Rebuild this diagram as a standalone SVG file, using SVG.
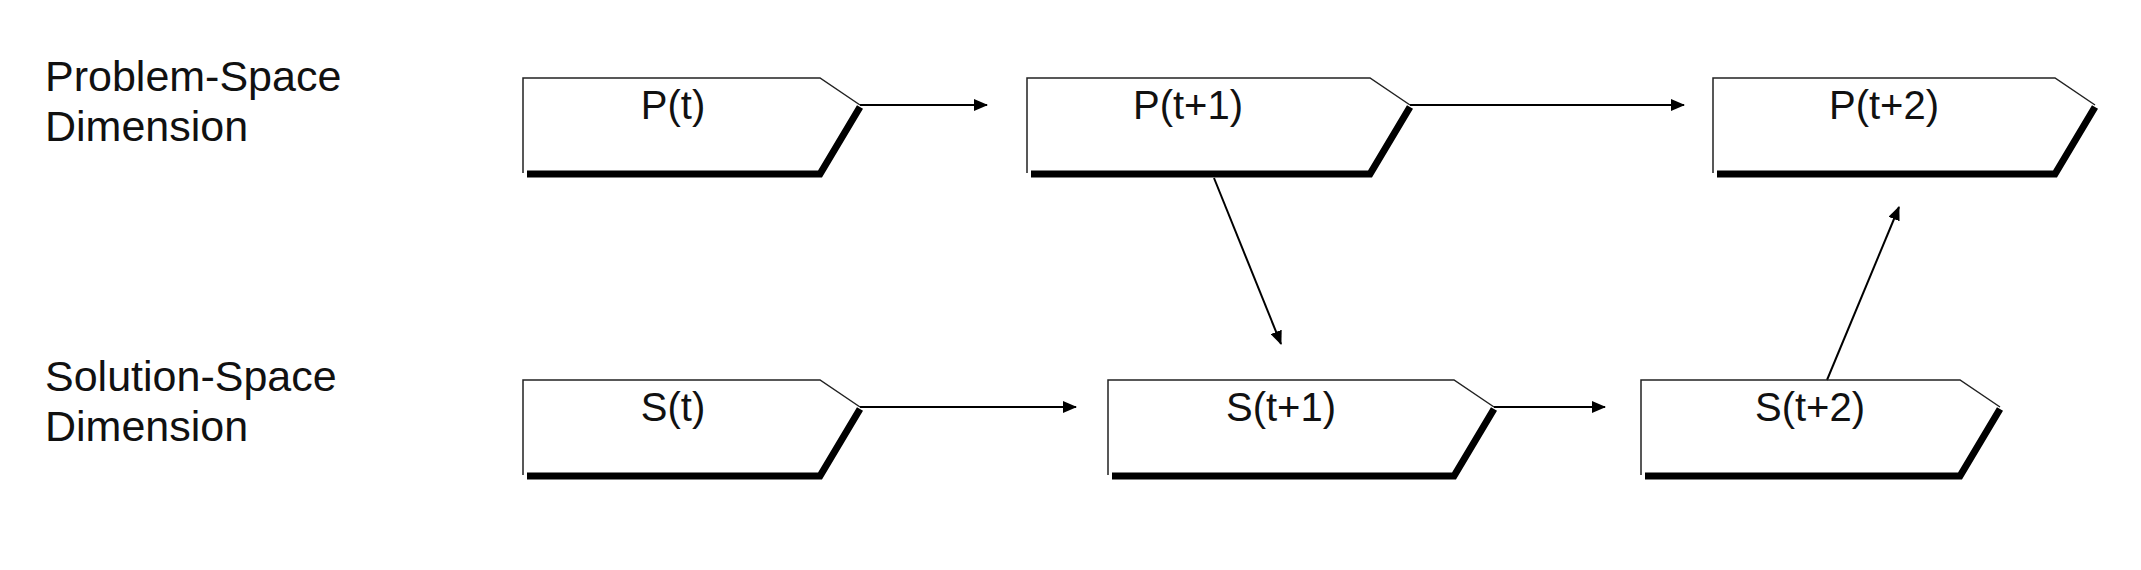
<svg xmlns="http://www.w3.org/2000/svg" width="2141" height="570" viewBox="0 0 2141 570">
<style>
text{font-family:"Liberation Sans",Arial,sans-serif;fill:#111}
.lbl{font-size:43px}
.nt{font-size:40px;text-anchor:middle}
.thin{fill:none;stroke:#222;stroke-width:1.5}
.thick{fill:none;stroke:#000;stroke-width:7;stroke-linejoin:miter}
.c{stroke:#000;stroke-width:2;fill:none;marker-end:url(#ah)}
</style>
<defs><marker id="ah" markerWidth="14" markerHeight="12" refX="13" refY="6" orient="auto" markerUnits="userSpaceOnUse"><path d="M0,0L14,6L0,12z" fill="#000"/></marker></defs>
<rect width="2141" height="570" fill="#fff"/>
<text class="lbl" x="45" y="91">Problem-Space</text>
<text class="lbl" x="45" y="141">Dimension</text>
<text class="lbl" x="45" y="391">Solution-Space</text>
<text class="lbl" x="45" y="441">Dimension</text>
<g id="connectors">
<line class="c" x1="860" y1="105" x2="987" y2="105"/>
<line class="c" x1="1410" y1="105" x2="1684" y2="105"/>
<line class="c" x1="860" y1="407" x2="1076" y2="407"/>
<line class="c" x1="1494" y1="407" x2="1605" y2="407"/>
<line class="c" x1="1214" y1="178" x2="1281" y2="344"/>
<line class="c" x1="1827" y1="380" x2="1899" y2="207"/>
</g>
<g id="Pt"><path class="thin" d="M523,173V78H820L860,105"/><path class="thick" d="M527,174H820L860,107"/><text class="nt" x="673" y="119">P(t)</text></g>
<g id="Pt1"><path class="thin" d="M1027,173V78H1370L1410,105"/><path class="thick" d="M1031,174H1370L1410,107"/><text class="nt" x="1188" y="119">P(t+1)</text></g>
<g id="Pt2"><path class="thin" d="M1713,173V78H2055L2095,105"/><path class="thick" d="M1717,174H2055L2095,107"/><text class="nt" x="1884" y="119">P(t+2)</text></g>
<g id="St"><path class="thin" d="M523,475V380H820L860,407"/><path class="thick" d="M527,476H820L860,409"/><text class="nt" x="673" y="421">S(t)</text></g>
<g id="St1"><path class="thin" d="M1108,475V380H1454L1494,407"/><path class="thick" d="M1112,476H1454L1494,409"/><text class="nt" x="1281" y="421">S(t+1)</text></g>
<g id="St2"><path class="thin" d="M1641,475V380H1960L2000,407"/><path class="thick" d="M1645,476H1960L2000,409"/><text class="nt" x="1810" y="421">S(t+2)</text></g>
</svg>
